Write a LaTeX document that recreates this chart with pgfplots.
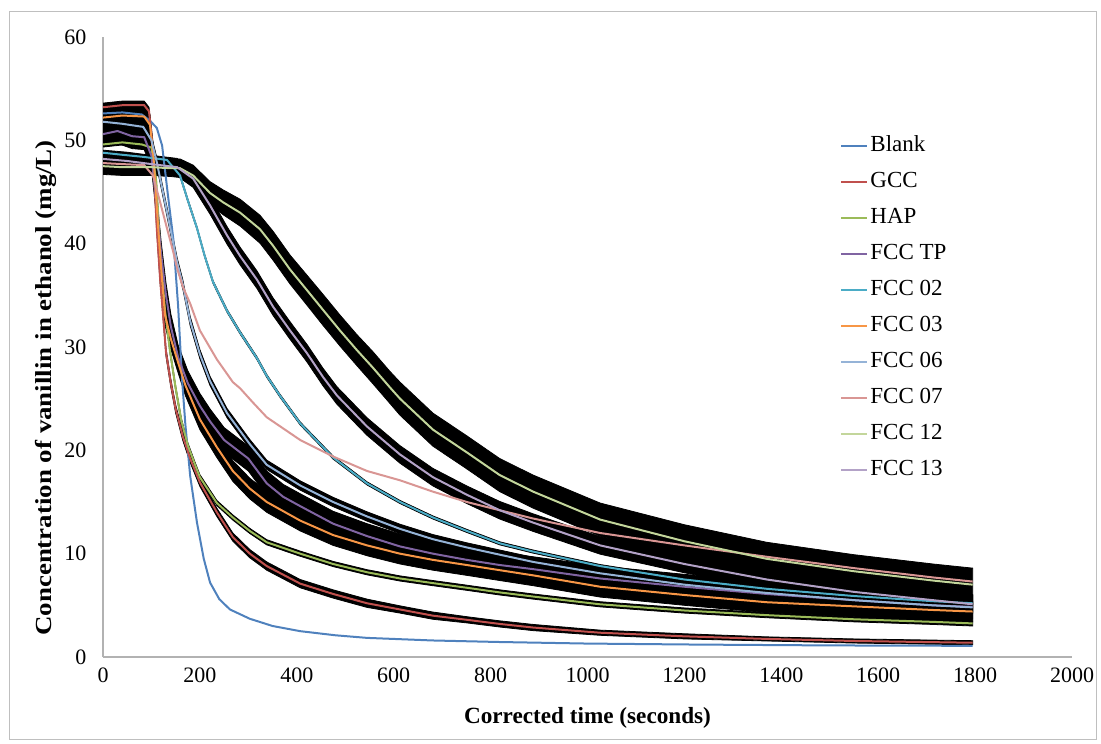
\documentclass[border=0pt]{standalone}
\usepackage{pgfplots}
\pgfplotsset{compat=1.18}
\usepackage{pgfplotstable}
\usepgfplotslibrary{fillbetween}
\usepackage{fontspec}
\setmainfont{Liberation Serif}

\definecolor{cBlank}{HTML}{4F81BD}
\definecolor{cGCC}{HTML}{C0504D}
\definecolor{cHAP}{HTML}{9BBB59}
\definecolor{cTP}{HTML}{8064A2}
\definecolor{cO2}{HTML}{4BACC6}
\definecolor{cO3}{HTML}{F79646}
\definecolor{cO6}{HTML}{95B3D7}
\definecolor{cO7}{HTML}{D99694}
\definecolor{cT12}{HTML}{C3D69B}
\definecolor{cT13}{HTML}{B3A2C7}

\pgfplotstableread{
x y e
0 52.6 0
40 52.7 0
80 52.5 0
97 51.9 0
111 51.2 0
122 49.5 0
134 44.7 0
145 40.5 0
155 34.0 0
163 27.0 0
170 22.5 0
180 17.5 0
194 13.0 0
208 9.5 0
221 7.2 0
240 5.6 0
262 4.6 0
303 3.7 0
350 3.0 0
407 2.5 0
480 2.1 0
545 1.85 0
680 1.6 0
819 1.45 0
1000 1.3 0
1232 1.2 0
1500 1.12 0
1795 1.08 0
}\tBlank

\pgfplotstableread{
x y e
0 53.2 0.4
40 53.4 0.4
85 53.4 0.4
95 52.8 0.4
100 50.5 0.4
104 47.9 0.4
111 41.5 0.4
118 36.5 0.4
124 33.1 0.4
130 29.5 0.4
140 26.5 0.4
150 24.0 0.4
165 21.3 0.4
180 19.2 0.4
200 16.9 0.4
235 14.0 0.4
268 11.6 0.4
303 10.0 0.4
338 8.8 0.4
407 7.1 0.4
475 6.1 0.4
545 5.2 0.4
613 4.6 0.35
681 4.0 0.35
751 3.6 0.3
819 3.2 0.3
888 2.85 0.3
1026 2.35 0.25
1200 2.0 0.25
1370 1.75 0.2
1550 1.55 0.2
1795 1.38 0.2
}\tGCC

\pgfplotstableread{
x y e
0 49.6 0.25
40 49.8 0.25
80 49.6 0.25
100 49.3 0.25
110 46.0 0.25
118 39.4 0.25
128 33.5 0.25
138 29.7 0.25
150 26.0 0.25
162 22.8 0.25
175 20.5 0.25
190 18.6 0.25
200 17.4 0.25
235 14.9 0.25
268 13.5 0.25
303 12.2 0.25
338 11.1 0.25
407 10.0 0.25
475 9.0 0.25
545 8.2 0.25
613 7.6 0.25
681 7.15 0.25
751 6.7 0.25
819 6.25 0.25
888 5.85 0.25
1026 5.1 0.25
1200 4.5 0.25
1370 4.05 0.25
1550 3.65 0.25
1713 3.4 0.25
1795 3.25 0.25
}\tHAP

\pgfplotstableread{
x y e
0 50.6 1.2
30 50.9 1.2
60 50.4 1.2
85 50.3 1.2
100 48.5 1.2
110 44.0 1.2
120 39.0 1.2
130 35.0 1.2
140 32.0 1.2
155 29.0 1.2
175 26.5 1.2
200 24.3 1.2
221 22.8 1.2
250 21.0 1.2
300 19.2 1.2
338 16.8 1.2
372 15.5 1.2
407 14.6 1.2
475 12.9 1.2
545 11.7 1.2
613 10.7 1.2
681 10.0 1.2
751 9.4 1.2
819 8.9 1.2
888 8.5 1.2
1026 7.6 1.2
1200 6.8 1.2
1370 6.1 1.2
1550 5.5 1.2
1713 5.0 1.2
1795 4.85 1.2
}\tTP

\pgfplotstableread{
x y e
0 48.8 0.15
40 48.6 0.15
83 48.4 0.15
132 48.1 0.15
159 46.6 0.15
175 44.2 0.15
194 41.5 0.15
210 38.8 0.15
227 36.3 0.15
256 33.5 0.15
283 31.4 0.15
318 28.9 0.15
338 27.2 0.15
365 25.3 0.15
407 22.6 0.15
475 19.3 0.15
545 16.8 0.15
613 15.0 0.15
681 13.5 0.15
751 12.2 0.15
819 11.0 0.15
888 10.2 0.15
1026 8.8 0.15
1200 7.5 0.15
1370 6.6 0.15
1550 5.9 0.15
1713 5.4 0.15
1795 5.2 0.15
}\tOtwo

\pgfplotstableread{
x y e
0 52.2 1.0
40 52.4 1.0
85 52.3 1.0
97 51.5 1.0
104 48.5 1.0
107 46.4 1.0
114 41.5 1.0
121 37.0 1.0
128 33.1 1.0
140 30.8 1.0
153 28.8 1.0
170 26.3 1.0
200 23.0 1.0
235 20.3 1.0
268 18.0 1.0
303 16.3 1.0
338 15.0 1.0
407 13.2 1.0
475 11.8 1.0
545 10.8 1.0
613 10.0 1.0
681 9.4 1.0
751 8.9 1.0
819 8.4 1.0
888 7.9 1.0
1026 6.8 1.0
1200 6.0 1.0
1370 5.3 1.0
1550 4.9 1.0
1713 4.55 1.0
1795 4.4 1.0
}\tOthree

\pgfplotstableread{
x y e
0 51.8 0.45
40 51.6 0.45
83 51.3 0.45
100 50.0 0.45
111 47.9 0.45
132 43.1 0.45
153 38.2 0.45
165 36.0 0.45
180 32.5 0.45
200 29.3 0.45
221 26.7 0.45
256 23.6 0.45
303 20.6 0.45
338 18.6 0.45
407 16.6 0.45
475 15.0 0.45
545 13.6 0.45
613 12.4 0.45
681 11.4 0.45
751 10.6 0.45
819 9.9 0.45
888 9.2 0.45
1026 8.1 0.45
1200 7.0 0.45
1370 6.2 0.45
1550 5.5 0.45
1713 5.0 0.45
1795 4.8 0.45
}\tOsix

\pgfplotstableread{
x y e
0 47.8 0
40 47.7 0
85 47.6 0
103 46.6 0
118 44.0 0
132 41.5 0
145 39.2 0
153 37.6 0
165 35.8 0
180 34.2 0
200 31.6 0
235 28.8 0
268 26.6 0
283 26.0 0
310 24.6 0
338 23.2 0
407 21.0 0
475 19.4 0
545 18.0 0
613 17.1 0
681 16.0 0
751 15.0 0
819 14.2 0
888 13.4 0
1026 12.0 0
1200 10.8 0
1370 9.7 0
1550 8.6 0
1713 7.7 0
1795 7.3 0
}\tOseven

\pgfplotstableread{
x y e
0 47.5 0.8
40 47.4 0.8
100 47.4 0.8
140 47.3 0.8
159 47.3 0.9
186 46.6 1.0
221 44.9 1.1
248 44.0 1.2
283 43.0 1.3
324 41.4 1.35
351 39.8 1.4
386 37.5 1.4
421 35.5 1.45
454 33.6 1.5
489 31.6 1.5
524 29.7 1.5
557 28.0 1.55
592 26.1 1.55
613 25.0 1.6
681 22.0 1.6
751 19.8 1.6
819 17.6 1.6
888 16.0 1.6
1026 13.3 1.6
1200 11.2 1.6
1370 9.5 1.6
1550 8.3 1.6
1713 7.4 1.6
1795 7.0 1.6
}\tTtwelve

\pgfplotstableread{
x y e
0 48.2 0.85
50 48.0 0.85
100 47.7 0.85
153 47.4 0.85
186 46.3 0.85
221 43.7 0.85
256 40.8 0.85
283 38.8 0.85
318 36.5 0.85
351 33.9 0.85
386 31.6 0.85
421 29.4 0.85
454 27.1 0.85
483 25.3 0.85
545 22.3 0.85
613 19.6 0.85
681 17.4 0.85
751 15.7 0.85
819 14.2 0.85
888 13.0 0.85
1026 10.8 0.85
1200 9.0 0.85
1370 7.5 0.85
1550 6.3 0.85
1713 5.5 0.85
1795 5.1 0.85
}\tTthirteen

\newcommand{\band}[2]{%
  \addplot[name path=#2u, draw=none, forget plot] table[x=x, y expr=\thisrow{y}+\thisrow{e}] {#1};
  \addplot[name path=#2l, draw=none, forget plot] table[x=x, y expr=\thisrow{y}-\thisrow{e}] {#1};
  \addplot[fill=black, draw=black, line width=0.4pt, forget plot] fill between[of=#2u and #2l];
}

\begin{document}
\begin{tikzpicture}
\begin{axis}[
  scale only axis,
  width=484.5pt, height=310pt,
  xmin=0, xmax=2000, ymin=0, ymax=60,
  xtick={0,200,...,2000}, ytick={0,10,...,60},
  axis lines*=left,
  axis line style={draw=black!30, line width=0.8pt},
  major tick length=0pt,
  tick label style={font=\fontsize{11}{13}\selectfont},
  /pgf/number format/assume math mode=true,
  /pgf/number format/1000 sep={},
  xticklabel style={yshift=-2pt},
  yticklabel style={xshift=-4.8pt},
  xlabel={Corrected time (seconds)},
  xlabel style={font=\bfseries\fontsize{11.6}{14}\selectfont, at={(axis description cs:0.5,-0.0984)}, anchor=center},
  ylabel={Concentration of vanillin in ethanol (mg/L)},
  ylabel style={font=\bfseries\fontsize{11.5}{14}\selectfont, at={(axis description cs:-0.0588,0.434)}, anchor=center, xscale=1.17},
  legend cell align=left,
  legend style={at={(axis description cs:0.7606,0.845)}, anchor=north west, draw=none, fill=none,
    font=\fontsize{11.5}{13}\selectfont, row sep=5.5pt, inner sep=0pt,
    nodes={inner sep=1pt, text height=8pt, text depth=2.5pt}},
  legend image code/.code={\draw[#1] (0pt,0pt) -- (13pt,0pt);},
  every axis plot/.append style={line width=1pt},
]
\coordinate (O) at (rel axis cs:0,0);
\band{\tGCC}{GCC}
\band{\tHAP}{HAP}
\band{\tTP}{TP}
\band{\tOtwo}{Otwo}
\band{\tOthree}{Othree}
\band{\tOsix}{Osix}
\band{\tTtwelve}{Ttwelve}
\band{\tTthirteen}{Tthirteen}

\addplot[cBlank, line width=1pt] table[x=x,y=y] {\tBlank};
\addlegendentry{Blank}
\addplot[cGCC, line width=1pt] table[x=x,y=y] {\tGCC};
\addlegendentry{GCC}
\addplot[cHAP, line width=1pt] table[x=x,y=y] {\tHAP};
\addlegendentry{HAP}
\addplot[cTP, line width=1pt] table[x=x,y=y] {\tTP};
\addlegendentry{FCC TP}
\addplot[cO2, line width=1pt] table[x=x,y=y] {\tOtwo};
\addlegendentry{FCC 02}
\addplot[cO3, line width=1pt] table[x=x,y=y] {\tOthree};
\addlegendentry{FCC 03}
\addplot[cO6, line width=1pt] table[x=x,y=y] {\tOsix};
\addlegendentry{FCC 06}
\addplot[cO7, line width=1pt] table[x=x,y=y] {\tOseven};
\addlegendentry{FCC 07}
\addplot[cT12, line width=1pt] table[x=x,y=y] {\tTtwelve};
\addlegendentry{FCC 12}
\addplot[cT13, line width=1pt] table[x=x,y=y] {\tTthirteen};
\addlegendentry{FCC 13}
\end{axis}
\pgfresetboundingbox
\path[use as bounding box] ([shift={(-51.5pt,-43pt)}]O) rectangle ([shift={(499pt,328.5pt)}]O);
\draw[black!25, line width=0.5pt] ([shift={(-46.5pt,-41pt)}]O) rectangle ([shift={(496.5pt,322.5pt)}]O);
\end{tikzpicture}
\end{document}
